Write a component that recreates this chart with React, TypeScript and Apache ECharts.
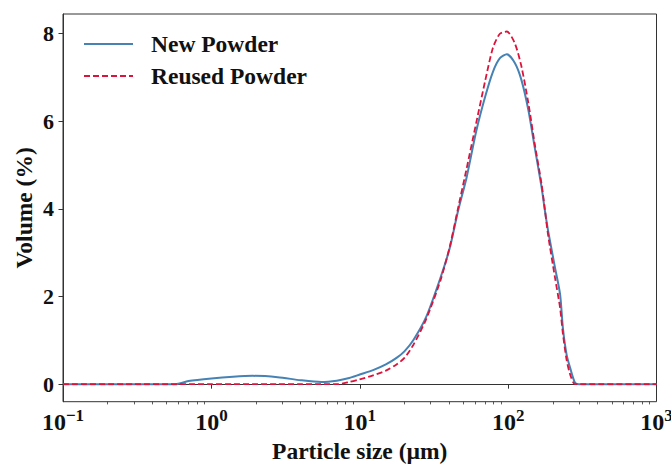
import React, { useEffect, useRef } from "react";
import * as echarts from "echarts";

// Particle sizes (µm) at which the curves are sampled
const sizes = [0.1, 0.3, 0.57, 0.7, 1.0, 1.4, 1.9, 2.8, 4.0, 5.5, 7.0, 8.5, 10, 12.3, 15, 17.7, 20, 23, 28, 35, 40.5, 46, 52.5, 61, 70, 79, 88, 98, 111, 123, 137, 151, 168, 177, 186, 207, 224, 234, 248, 263, 282, 300, 1000];

// Volume (%) values
const newPowder = [0, 0, 0, 0.07, 0.13, 0.17, 0.19, 0.16, 0.09, 0.05, 0.08, 0.14, 0.22, 0.32, 0.45, 0.6, 0.75, 1.01, 1.53, 2.43, 3.12, 3.96, 4.72, 5.78, 6.56, 7.13, 7.44, 7.53, 7.33, 6.94, 6.25, 5.41, 4.5, 3.96, 3.5, 2.66, 2.05, 1.28, 0.67, 0.35, 0.04, 0, 0];
const reusedPowder = [0, 0, 0, 0, 0, 0, 0, 0, 0, 0, 0, 0.05, 0.11, 0.2, 0.31, 0.45, 0.6, 0.9, 1.48, 2.37, 3.15, 4.02, 4.92, 5.97, 6.92, 7.68, 8.0, 8.05, 7.78, 7.25, 6.41, 5.49, 4.57, 3.98, 3.4, 2.43, 1.74, 1.15, 0.55, 0.2, 0, 0, 0];

// Axis ticks
const xMajorTicks = [0.1, 1, 10, 100, 1000];
const xMinorTicks = [
  0.2, 0.3, 0.4, 0.5, 0.6, 0.7, 0.8, 0.9,
  2, 3, 4, 5, 6, 7, 8, 9,
  20, 30, 40, 50, 60, 70, 80, 90,
  200, 300, 400, 500, 600, 700, 800, 900,
];
const yTicks = [0, 2, 4, 6, 8];

const FONT = "'Liberation Serif', 'Times New Roman', serif";
const AXIS_COLOR = "#333333";
const TEXT_COLOR = "#111111";

export default function App() {
  const ref = useRef<HTMLDivElement>(null);

  useEffect(() => {
    document.body.style.margin = "0";
    const chart = echarts.init(ref.current!, null, { renderer: "svg", width: 671, height: 464 });
    const toPairs = (vals: number[]) => sizes.map((s, i) => [s, vals[i]]);
    const supLabel = (value: number) => {
      const e = Math.round(Math.log10(value));
      const es = e < 0 ? "\u2212" + -e : String(e);
      return "{b|10}{s|" + es + "}";
    };
    chart.setOption({
      animation: false,
      grid: {
        left: 63,
        top: 14,
        right: 14.5,
        bottom: 62.3,
        containLabel: false,
        outerBoundsMode: "none",
        show: true,
        borderColor: AXIS_COLOR,
        borderWidth: 1,
        backgroundColor: "transparent",
      },
      legend: {
        orient: "vertical",
        left: 83,
        top: 32,
        padding: 0,
        itemWidth: 49,
        itemHeight: 14,
        itemGap: 8,
        itemStyle: { opacity: 0 },
        textStyle: {
          fontFamily: FONT,
          fontWeight: "bold",
          fontSize: 23.5,
          color: TEXT_COLOR,
          padding: [0, 0, 0, 13],
        },
        data: ["New Powder", "Reused Powder"],
      },
      xAxis: [
        {
          type: "log",
          logBase: 10,
          min: 0.1,
          max: 1000,
          name: "Particle size (\u00b5m)",
          nameLocation: "middle",
          nameGap: 37,
          nameTextStyle: {
            fontFamily: FONT,
            fontWeight: "bold",
            fontSize: 23.5,
            color: TEXT_COLOR,
          },
          axisLine: { show: true, lineStyle: { color: AXIS_COLOR, width: 1 } },
          axisTick: {
            show: true,
            length: 4.5,
            lineStyle: { color: AXIS_COLOR, width: 1 },
            customValues: xMajorTicks,
          },
          minorTick: { show: false },
          splitLine: { show: false },
          axisLabel: {
            customValues: xMajorTicks,
            margin: 5,
            formatter: supLabel,
            rich: {
              b: { fontFamily: FONT, fontWeight: "bold", fontSize: 24, color: TEXT_COLOR },
              s: {
                fontFamily: FONT,
                fontWeight: "bold",
                fontSize: 17,
                color: TEXT_COLOR,
                padding: [0, 0, 13, 0],
              },
            },
          },
        },
        {
          type: "log",
          logBase: 10,
          min: 0.1,
          max: 1000,
          position: "bottom",
          axisLine: { show: false },
          axisTick: {
            show: true,
            length: 2.7,
            lineStyle: { color: AXIS_COLOR, width: 0.8 },
            customValues: xMinorTicks,
          },
          axisLabel: { show: false },
          splitLine: { show: false },
        },
      ],
      yAxis: {
        type: "value",
        min: -0.4,
        max: 8.45,
        name: "Volume (%)",
        nameLocation: "middle",
        nameGap: 27,
        nameMoveOverlap: false,
        nameTextStyle: {
          fontFamily: FONT,
          fontWeight: "bold",
          fontSize: 23.5,
          color: TEXT_COLOR,
        },
        axisLine: { show: true, lineStyle: { color: AXIS_COLOR, width: 1 } },
        axisTick: {
          show: true,
          length: 4.5,
          lineStyle: { color: AXIS_COLOR, width: 1 },
          customValues: yTicks,
        },
        splitLine: { show: false },
        axisLabel: {
          customValues: yTicks,
          margin: 9,
          fontFamily: FONT,
          fontWeight: "bold",
          fontSize: 22,
          color: TEXT_COLOR,
        },
      },
      series: [
        {
          name: "New Powder",
          type: "line",
          xAxisIndex: 0,
          data: toPairs(newPowder),
          symbol: "none",
          smooth: 0.25,
          lineStyle: { color: "#4682b4", width: 2 },
          itemStyle: { color: "#4682b4" },
        },
        {
          name: "Reused Powder",
          type: "line",
          xAxisIndex: 0,
          data: toPairs(reusedPowder),
          symbol: "none",
          smooth: 0.25,
          lineStyle: { color: "#dc143c", width: 1.8, type: [6, 3] },
          itemStyle: { color: "#dc143c" },
        },
      ],
    });
    return () => chart.dispose();
  }, []);

  return <div ref={ref} style={{ width: 671, height: 464 }} />;
}
